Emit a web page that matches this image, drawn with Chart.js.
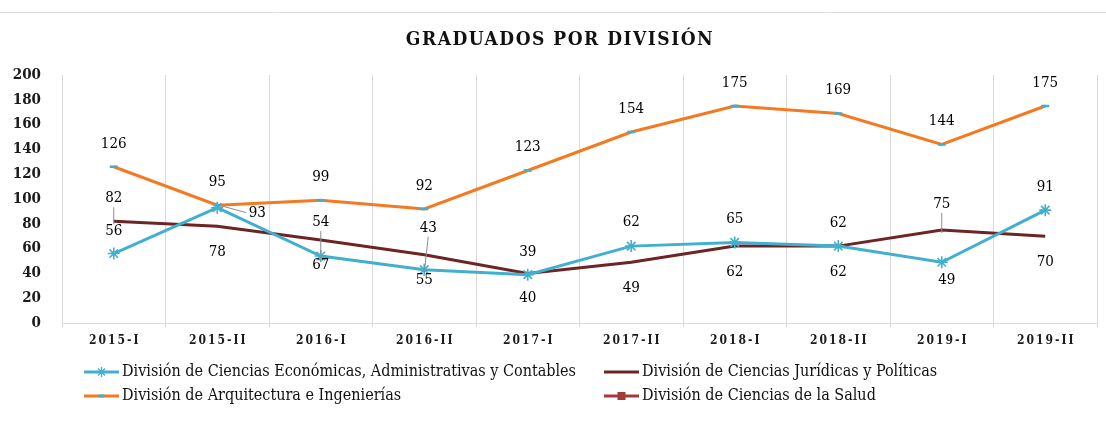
<!DOCTYPE html>
<html>
<head>
<meta charset="utf-8">
<script src="https://cdn.jsdelivr.net/npm/chart.js@4/dist/chart.umd.min.js"></script>
<style>
  html, body { margin: 0; padding: 0; background: #ffffff; }
  #wrap { position: relative; width: 1106px; height: 424px; }
  canvas { display: block; }
</style>
</head>
<body>
<div id="wrap"><canvas id="c" width="1106" height="424"></canvas></div>
<script>
// ---- data ----
const chartTitle = 'GRADUADOS POR DIVISIÓN';
const categories = ['2015-I', '2015-II', '2016-I', '2016-II', '2017-I', '2017-II', '2018-I', '2018-II', '2019-I', '2019-II'];
const seriesNames = [
  'División de Ciencias Económicas, Administrativas y Contables',
  'División de Ciencias Jurídicas y Políticas',
  'División de Arquitectura e Ingenierías',
  'División de Ciencias de la Salud'
];
const economicas   = [56, 93, 54, 43, 39, 62, 65, 62, 49, 91];
const juridicas    = [82, 78, 67, 55, 40, 49, 62, 62, 75, 70];
const arquitectura = [126, 95, 99, 92, 123, 154, 175, 169, 144, 175];
const salud        = [];
const yTicks = [0, 20, 40, 60, 80, 100, 120, 140, 160, 180, 200];

// ---- label placement (annotation offsets in px, not data) ----
const econLabelOffsets = [[0,-22],[40,5],[0,-34],[4,-42],[0,-23],[0,-24],[0,-23],[0,-23],[5,18],[0,-23]];
const econLeaders      = [false,true,true,true,false,false,false,false,false,false];
const jurLabelOffsets  = [[0,-23],[0,26],[0,25],[0,25],[0,25],[0,26],[0,26],[0,26],[0,-26],[0,26]];
const jurLeaders       = [true,false,false,false,false,false,false,false,true,false];
const arqLabelOffsets  = categories.map(() => [0,-23]);
const arqLeaders       = categories.map(() => false);

const CYAN = '#41b0cf', ORANGE = '#f47a22', MAROON = '#6f2424', SALUD = '#a33a3a';
const SERIF = '"DejaVu Serif Condensed", "DejaVu Serif", serif';
const NUM_FONT = '15px ' + SERIF;
const TXT_FONT = '16px ' + SERIF;

const datasets = [
  { label: seriesNames[0], data: economicas, borderColor: CYAN, backgroundColor: CYAN,
    borderWidth: 3, pointStyle: 'star', pointRadius: 6, pointBorderWidth: 1.6,
    pointBorderColor: CYAN, pointBackgroundColor: CYAN, tension: 0,
    _offsets: econLabelOffsets, _leaders: econLeaders, _legend: {col: 0, row: 0, marker: 'star', mcolor: CYAN} },
  { label: seriesNames[1], data: juridicas, borderColor: MAROON, backgroundColor: MAROON,
    borderWidth: 3, pointRadius: 0, tension: 0,
    _offsets: jurLabelOffsets, _leaders: jurLeaders, _legend: {col: 1, row: 0, marker: null} },
  { label: seriesNames[2], data: arquitectura, borderColor: ORANGE, backgroundColor: ORANGE,
    borderWidth: 3, pointStyle: 'line', pointRadius: 4, pointBorderWidth: 2.5,
    pointBorderColor: CYAN, pointBackgroundColor: CYAN, tension: 0,
    _offsets: arqLabelOffsets, _leaders: arqLeaders, _legend: {col: 0, row: 1, marker: 'line', mcolor: CYAN} },
  { label: seriesNames[3], data: salud, borderColor: SALUD, backgroundColor: SALUD,
    borderWidth: 3, pointStyle: 'rect', pointRadius: 4, tension: 0,
    _legend: {col: 1, row: 1, marker: 'rect', mcolor: SALUD} }
];

const decorPlugin = {
  id: 'decor',
  beforeDraw(chart) {
    const ctx = chart.ctx;
    ctx.save();
    ctx.strokeStyle = '#dcdcdc';
    ctx.lineWidth = 1;
    ctx.beginPath(); ctx.moveTo(0, 12.5); ctx.lineTo(1106, 12.5); ctx.stroke();
    // title
    ctx.fillStyle = '#111';
    ctx.font = 'bold 19px ' + SERIF;
    ctx.letterSpacing = '1.5px';
    ctx.textAlign = 'center';
    ctx.textBaseline = 'middle';
    ctx.fillText(chartTitle, 560, 40);
    ctx.restore();
  },
  afterDraw(chart) {
    const ctx = chart.ctx;
    const xs = chart.scales.x;
    ctx.save();
    // x labels with letter spacing
    ctx.fillStyle = '#1a1a1a';
    ctx.font = 'bold 12px ' + SERIF;
    ctx.letterSpacing = '2px';
    ctx.textAlign = 'center';
    ctx.textBaseline = 'middle';
    chart.data.labels.forEach((lab, i) => {
      ctx.fillText(lab, xs.getPixelForValue(i) + 1, 341);
    });
    ctx.letterSpacing = '0px';
    // legend
    const colX = [84, 604];
    const rowY = [372, 396];
    ctx.font = TXT_FONT;
    ctx.textAlign = 'left';
    chart.data.datasets.forEach(ds => {
      const L = ds._legend;
      const x0 = colX[L.col], y = rowY[L.row];
      ctx.strokeStyle = ds.borderColor;
      ctx.lineWidth = 3;
      ctx.beginPath(); ctx.moveTo(x0, y); ctx.lineTo(x0 + 35, y); ctx.stroke();
      const mx = x0 + 17.5;
      if (L.marker === 'star') {
        ctx.strokeStyle = L.mcolor; ctx.lineWidth = 1.4;
        for (let k = 0; k < 4; k++) {
          const a = k * Math.PI / 4;
          ctx.beginPath();
          ctx.moveTo(mx - 5 * Math.cos(a), y - 5 * Math.sin(a));
          ctx.lineTo(mx + 5 * Math.cos(a), y + 5 * Math.sin(a));
          ctx.stroke();
        }
      } else if (L.marker === 'line') {
        ctx.strokeStyle = L.mcolor; ctx.lineWidth = 3;
        ctx.beginPath(); ctx.moveTo(mx - 3, y); ctx.lineTo(mx + 3, y); ctx.stroke();
      } else if (L.marker === 'rect') {
        ctx.fillStyle = L.mcolor;
        ctx.fillRect(mx - 4, y - 4, 8, 8);
      }
      ctx.fillStyle = '#111';
      ctx.textBaseline = 'middle';
      ctx.fillText(ds.label, x0 + 38, y);
    });
    ctx.restore();
  },
  afterDatasetsDraw(chart) {
    const ctx = chart.ctx;
    ctx.save();
    ctx.font = NUM_FONT;
    ctx.textAlign = 'center';
    ctx.textBaseline = 'middle';
    chart.data.datasets.forEach((ds, di) => {
      if (!ds._offsets) return;
      const meta = chart.getDatasetMeta(di);
      meta.data.forEach((pt, i) => {
        const v = ds.data[i];
        if (v == null) return;
        const [dx, dy] = ds._offsets[i];
        const lx = pt.x + dx, ly = pt.y + dy;
        if (ds._leaders[i]) {
          ctx.strokeStyle = '#8c8c8c';
          ctx.lineWidth = 1;
          ctx.beginPath();
          let sx = lx, sy = ly;
          if (Math.abs(dx) > Math.abs(dy)) { sx = lx - Math.sign(dx) * 11; }
          else { sy = ly - Math.sign(dy) * 9; }
          ctx.moveTo(sx, sy);
          ctx.lineTo(pt.x, pt.y - Math.sign(dy) * 3);
          ctx.stroke();
        }
        ctx.fillStyle = '#000';
        ctx.fillText(String(v), lx, ly);
      });
    });
    ctx.restore();
  }
};

new Chart(document.getElementById('c'), {
  type: 'line',
  data: { labels: categories, datasets },
  options: {
    responsive: false,
    animation: false,
    layout: { padding: { top: 75, right: 9, bottom: 71, left: 0 } },
    plugins: { legend: { display: false }, tooltip: { enabled: false }, title: { display: false } },
    scales: {
      x: {
        type: 'category',
        offset: true,
        grid: { offset: true, display: true, color: '#d9d9d9', lineWidth: 1, drawTicks: true, tickLength: 4 },
        border: { display: true, color: '#d9d9d9' },
        ticks: { display: false },
        afterFit(s) { s.height = 30; }
      },
      y: {
        min: 0, max: 200,
        afterBuildTicks(s) { s.ticks = yTicks.map(v => ({ value: v })); },
        grid: { display: false },
        border: { display: false },
        ticks: { color: '#1a1a1a', font: { family: SERIF, size: 15, weight: 'bold' }, padding: 13 },
        afterFit(s) { s.width = 62; }
      }
    }
  },
  plugins: [decorPlugin]
});
</script>
</body>
</html>
